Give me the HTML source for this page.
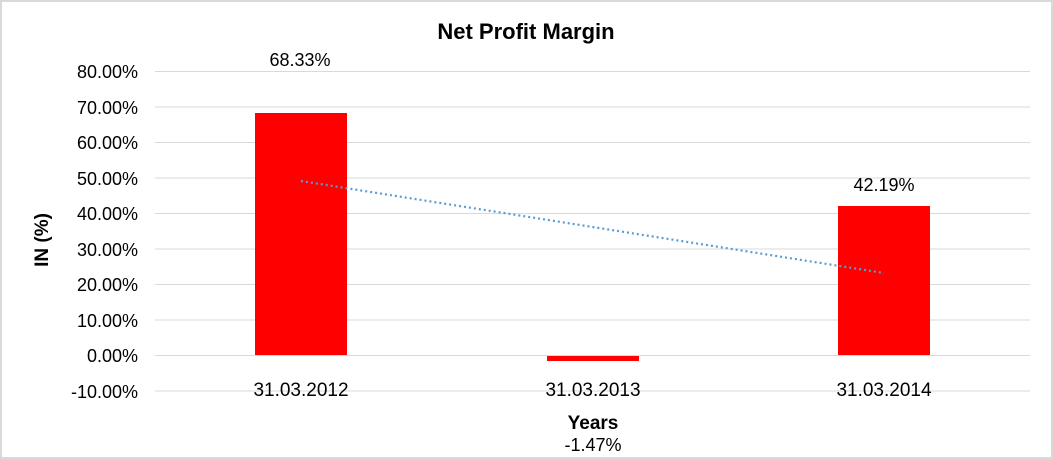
<!DOCTYPE html>
<html><head><style>
body{margin:0;background:#fff;}
svg{display:block;font-family:"Liberation Sans",Arial,sans-serif;}
</style></head><body>
<svg width="1053" height="459" xmlns="http://www.w3.org/2000/svg">
<rect x="1" y="1" width="1051" height="457" fill="#fff" stroke="#d9d9d9" stroke-width="2"/>
<text x="526" y="39" font-size="22" font-weight="bold" text-anchor="middle">Net Profit Margin</text>
<g stroke="#d9d9d9" stroke-width="1">
<line x1="155" x2="1030" y1="71.5" y2="71.5"/>
<line x1="155" x2="1030" y1="107" y2="107"/>
<line x1="155" x2="1030" y1="142.5" y2="142.5"/>
<line x1="155" x2="1030" y1="178" y2="178"/>
<line x1="155" x2="1030" y1="213.5" y2="213.5"/>
<line x1="155" x2="1030" y1="249" y2="249"/>
<line x1="155" x2="1030" y1="284.5" y2="284.5"/>
<line x1="155" x2="1030" y1="320" y2="320"/>
<line x1="155" x2="1030" y1="391" y2="391"/>
</g>
<g font-size="18" text-anchor="end">
<text x="138" y="78">80.00%</text>
<text x="138" y="114">70.00%</text>
<text x="138" y="149">60.00%</text>
<text x="138" y="185">50.00%</text>
<text x="138" y="220">40.00%</text>
<text x="138" y="256">30.00%</text>
<text x="138" y="291">20.00%</text>
<text x="138" y="327">10.00%</text>
<text x="138" y="362">0.00%</text>
<text x="138" y="398">-10.00%</text>
</g>
<rect x="255" y="113" width="92" height="242" fill="#ff0000"/>
<rect x="547" y="355" width="92" height="6" fill="#ff0000"/>
<rect x="838" y="206" width="92" height="149" fill="#ff0000"/>
<line x1="155" x2="1030" y1="355.5" y2="355.5" stroke="#d9d9d9"/>
<line x1="301" y1="181" x2="884" y2="273" stroke="#5b9bd5" stroke-width="2.2" stroke-dasharray="2,3"/>
<g font-size="18" text-anchor="middle">
<text x="300" y="66">68.33%</text>
<text x="884" y="191">42.19%</text>
<text x="593" y="451">-1.47%</text>
</g>
<g font-size="19" text-anchor="middle">
<text x="301" y="396">31.03.2012</text>
<text x="593" y="396">31.03.2013</text>
<text x="884" y="396">31.03.2014</text>
</g>
<text x="593" y="429" font-size="19" font-weight="bold" text-anchor="middle">Years</text>
<text transform="translate(48,240) rotate(-90)" font-size="19" font-weight="bold" text-anchor="middle">IN (%)</text>
</svg>
</body></html>
